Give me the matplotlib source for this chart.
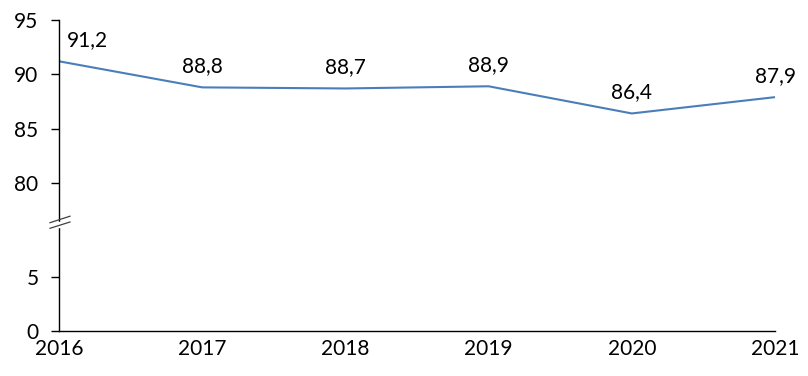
import matplotlib
matplotlib.use("Agg")
import matplotlib.pyplot as plt

years = [2016, 2017, 2018, 2019, 2020, 2021]
values = [91.2, 88.8, 88.7, 88.9, 86.4, 87.9]
labels = ["91,2", "88,8", "88,7", "88,9", "86,4", "87,9"]
upper_ticks = [80, 85, 90, 95]
lower_ticks = [0, 5]

plt.rcParams['font.family'] = ['Lato', 'DejaVu Sans']
W, H = 808, 376
fig = plt.figure(figsize=(W/100, H/100), dpi=100)

left, right = 59/W, 775/W
y_top, y_brk, y_bot = 20, 227, 331
ax_up = fig.add_axes([left, 1 - y_brk/H, right - left, (y_brk - y_top)/H])
ax_lo = fig.add_axes([left, 1 - y_bot/H, right - left, (y_bot - y_brk)/H])

FS = 15
line_color = "#4A7EBB"
ax_up.plot(years, values, color=line_color, lw=1.5, clip_on=False, solid_capstyle='butt')
ax_up.set_ylim(75.95, 95)
ax_lo.set_ylim(0, 9.6)
for ax in (ax_up, ax_lo):
    ax.set_xlim(2016, 2021)
    for s in ("top", "right"):
        ax.spines[s].set_visible(False)
    ax.spines["left"].set_linewidth(1.0)
    ax.tick_params(axis='y', direction='out', length=5.8, width=1.0, labelsize=FS, pad=9)
    ax.tick_params(axis='x', length=0)
    ax.patch.set_alpha(0)
ax_up.spines["bottom"].set_visible(False)
ax_up.set_xticks([])
ax_up.set_yticks(upper_ticks)
ax_up.set_yticklabels([str(t) for t in upper_ticks])
ax_lo.set_yticks(lower_ticks)
ax_lo.set_yticklabels([str(t) for t in lower_ticks])
ax_lo.set_xticks(years)
ax_lo.set_xticklabels([str(y) for y in years], fontsize=FS)
ax_lo.tick_params(axis='x', pad=6)
ax_lo.spines["bottom"].set_linewidth(1.0)

for i, (x, v, t) in enumerate(zip(years, values, labels)):
    if i == 0:
        ax_up.annotate(t, (x, v), xytext=(6, 8), textcoords='offset points',
                       ha='left', va='bottom', fontsize=FS)
    else:
        ax_up.annotate(t, (x, v), xytext=(0, 8), textcoords='offset points',
                       ha='center', va='bottom', fontsize=FS)

# break marks
from matplotlib.lines import Line2D
def px(x, y):
    return (x / W, 1 - y / H)
fig.add_artist(plt.Rectangle(px(57, 227.5), 4/W, 5/H, transform=fig.transFigure, color='white', zorder=5))
for (x0, y0, x1, y1) in [(50, 222.7, 70, 216.2), (50, 228.3, 70, 222.0)]:
    a = px(x0, y0); b = px(x1, y1)
    fig.add_artist(Line2D([a[0], b[0]], [a[1], b[1]], transform=fig.transFigure,
                          color='#404040', lw=0.9, zorder=6))

fig.savefig("out.png", dpi=100)
